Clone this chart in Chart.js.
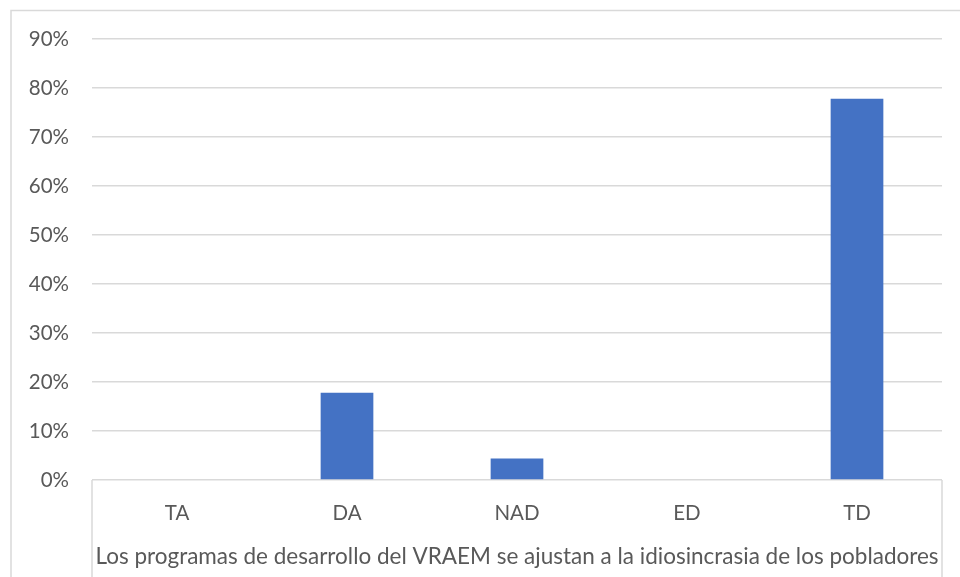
<!DOCTYPE html>
<html>
<head>
<meta charset="utf-8">
<script src="https://cdn.jsdelivr.net/npm/chart.js@4"></script>
<style>
  html, body { margin: 0; padding: 0; background: #fff; }
  #wrap { width: 960px; height: 577px; }
</style>
</head>
<body>
<div id="wrap"><canvas id="chart" width="960" height="577"></canvas></div>
<script>
// Data
const categories = ['TA', 'DA', 'NAD', 'ED', 'TD'];
const percentages = [0, 17.8, 4.4, 0, 77.8];
const axisTitle = 'Los programas de desarrollo del VRAEM se ajustan a la idiosincrasia de los pobladores';

const fontFamily = 'Lato, "Open Sans", sans-serif';
const textColor = '#595959';
const lineColor = '#d9d9d9';

// frame around the chart and the boxed category axis
const framePlugin = {
    id: 'frame',
    beforeDraw(chart) {
        const ctx = chart.ctx;
        const a = chart.chartArea;
        ctx.save();
        ctx.strokeStyle = lineColor;
        ctx.lineWidth = 1.5;
        ctx.beginPath();
        ctx.moveTo(11, chart.height);
        ctx.lineTo(11, 10.5);
        ctx.lineTo(chart.width, 10.5);
        ctx.stroke();
        ctx.beginPath();
        ctx.moveTo(a.left, a.bottom);
        ctx.lineTo(a.left, chart.height);
        ctx.moveTo(a.right, a.bottom);
        ctx.lineTo(a.right, chart.height);
        ctx.stroke();
        ctx.restore();
    }
};

const ctx = document.getElementById('chart');
new Chart(ctx, {
    type: 'bar',
    data: {
        labels: categories,
        datasets: [{
            data: percentages,
            backgroundColor: '#4472c4',
            categoryPercentage: 1,
            barPercentage: 0.31
        }]
    },
    options: {
        responsive: false,
        animation: false,
        layout: { padding: { top: 39, right: 18, left: 11, bottom: 0 } },
        plugins: {
            legend: { display: false },
            tooltip: { enabled: false }
        },
        scales: {
            x: {
                grid: { display: false, drawTicks: false },
                border: { display: false },
                ticks: {
                    color: textColor,
                    padding: 21,
                    maxRotation: 0,
                    font: { family: fontFamily, size: 20.5 }
                },
                title: {
                    display: true,
                    text: axisTitle,
                    color: textColor,
                    padding: { top: 0, bottom: 7 },
                    font: { family: fontFamily, size: 22.5 }
                },
                afterFit(scale) { scale.height = 97; }
            },
            y: {
                min: 0,
                max: 90,
                grid: { color: lineColor, lineWidth: 1.5, drawTicks: false },
                border: { display: false },
                ticks: {
                    stepSize: 10,
                    padding: 23,
                    color: textColor,
                    font: { family: fontFamily, size: 20.5 },
                    callback: v => v + '%'
                },
                afterFit(scale) { scale.width = 81; }
            }
        }
    },
    plugins: [framePlugin]
});
</script>
</body>
</html>
